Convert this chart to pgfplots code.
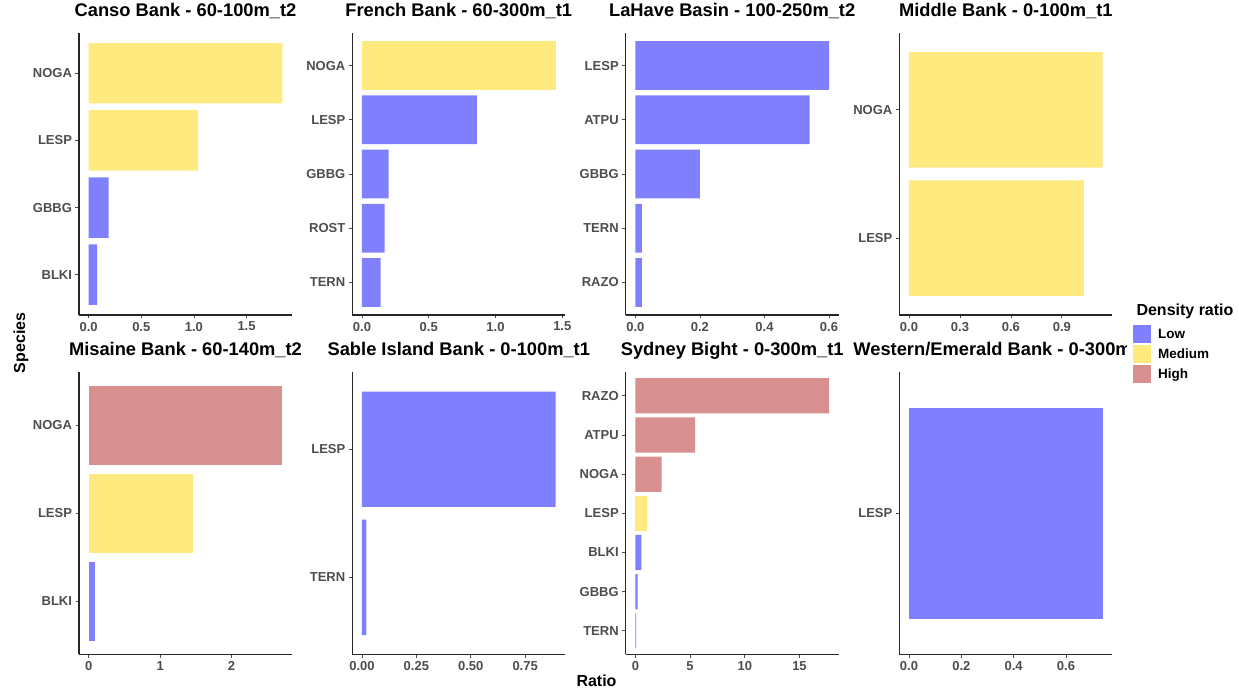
\documentclass[border=0pt]{standalone}
\usepackage{pgfplots}
\pgfplotsset{compat=1.18}
\usepackage{fontspec}
\setmainfont{Liberation Sans}
\definecolor{lowc}{RGB}{128,128,255}
\definecolor{medc}{RGB}{255,234,128}
\definecolor{highc}{RGB}{216,143,143}
\definecolor{tickgray}{RGB}{77,77,77}
\pgfplotsset{
  panel/.style={
    anchor=south west, scale only axis, width=213pt, height=282pt,
    axis x line=bottom, axis y line=left,
    axis line style={black!85, line width=1.1pt, -},
    xbar, bar width=0.9,
    tick align=outside, major tick length=3.5pt,
    tick style={tickgray, line width=0.8pt},
    every tick label/.append style={font=\fontsize{13}{15}\selectfont\bfseries, text=tickgray},
    title style={font=\fontsize{18.3}{20}\selectfont\bfseries, at={(0.5,1)}, anchor=base, yshift=10.5pt},
    ymin=0.4,
    clip=false,
  },
  lowbar/.style={fill=lowc, draw=none, bar shift=0pt},
  medbar/.style={fill=medc, draw=none, bar shift=0pt},
  highbar/.style={fill=highc, draw=none, bar shift=0pt},
}
\begin{document}
\begin{tikzpicture}
\useasboundingbox (0pt,0pt) rectangle (1239pt,692pt);

% ---- Canso Bank
\begin{axis}[panel, at={(79pt,377pt)}, title={Canso Bank - 60-100m\_t2},
  xmin=-0.092, xmax=1.932, ymax=4.6,
  xtick={0,0.5,1,1.5}, xticklabels={0.0,0.5,1.0,1.5},
  ytick={1,2,3,4}, yticklabels={BLKI,GBBG,LESP,NOGA}]
\addplot[medbar] coordinates {(1.84,4) (1.04,3)};
\addplot[lowbar] coordinates {(0.19,2) (0.08,1)};
\end{axis}

% ---- French Bank
\begin{axis}[panel, at={(352.3pt,377pt)}, title={French Bank - 60-300m\_t1},
  xmin=-0.0725, xmax=1.5225, ymax=5.6,
  xtick={0,0.5,1,1.5}, xticklabels={0.0,0.5,1.0,1.5},
  ytick={1,2,3,4,5}, yticklabels={TERN,ROST,GBBG,LESP,NOGA}]
\addplot[medbar] coordinates {(1.45,5)};
\addplot[lowbar] coordinates {(0.86,4) (0.20,3) (0.17,2) (0.14,1)};
\end{axis}

% ---- LaHave Basin
\begin{axis}[panel, at={(625.7pt,377pt)}, title={LaHave Basin - 100-250m\_t2},
  xmin=-0.03, xmax=0.63, ymax=5.6,
  xtick={0,0.2,0.4,0.6}, xticklabels={0.0,0.2,0.4,0.6},
  ytick={1,2,3,4,5}, yticklabels={RAZO,TERN,GBBG,ATPU,LESP}]
\addplot[lowbar] coordinates {(0.60,5) (0.54,4) (0.20,3) (0.02,2) (0.02,1)};
\end{axis}

% ---- Middle Bank
\begin{axis}[panel, at={(899.3pt,377pt)}, title={Middle Bank - 0-100m\_t1},
  xmin=-0.057, xmax=1.197, ymax=2.6,
  xtick={0,0.3,0.6,0.9}, xticklabels={0.0,0.3,0.6,0.9},
  ytick={1,2}, yticklabels={LESP,NOGA}]
\addplot[medbar] coordinates {(1.14,2) (1.03,1)};
\end{axis}

% ---- Misaine Bank
\begin{axis}[panel, at={(79pt,37.7pt)}, title={Misaine Bank - 60-140m\_t2},
  xmin=-0.1355, xmax=2.8455, ymax=3.6,
  xtick={0,1,2}, xticklabels={0,1,2},
  ytick={1,2,3}, yticklabels={BLKI,LESP,NOGA}]
\addplot[highbar] coordinates {(2.71,3)};
\addplot[medbar] coordinates {(1.46,2)};
\addplot[lowbar] coordinates {(0.09,1)};
\end{axis}

% ---- Sable Island Bank
\begin{axis}[panel, at={(352.3pt,37.7pt)}, title={Sable Island Bank - 0-100m\_t1},
  xmin=-0.0445, xmax=0.9345, ymax=2.6,
  xtick={0,0.25,0.5,0.75}, xticklabels={0.00,0.25,0.50,0.75},
  ytick={1,2}, yticklabels={TERN,LESP}]
\addplot[lowbar] coordinates {(0.89,2) (0.02,1)};
\end{axis}

% ---- Sydney Bight
\begin{axis}[panel, at={(625.7pt,37.7pt)}, title={Sydney Bight - 0-300m\_t1},
  xmin=-0.885, xmax=18.585, ymax=7.6,
  xtick={0,5,10,15}, xticklabels={0,5,10,15},
  ytick={1,2,3,4,5,6,7}, yticklabels={TERN,GBBG,BLKI,LESP,NOGA,ATPU,RAZO}]
\addplot[highbar] coordinates {(17.7,7) (5.45,6) (2.4,5)};
\addplot[medbar] coordinates {(1.1,4)};
\addplot[lowbar] coordinates {(0.55,3) (0.20,2) (0.07,1)};
\end{axis}

% ---- Western/Emerald Bank
\begin{axis}[panel, at={(899.3pt,37.7pt)}, title={Western/Emerald Bank - 0-300m\_t1},
  xmin=-0.037, xmax=0.777, ymax=1.6,
  xtick={0,0.2,0.4,0.6}, xticklabels={0.0,0.2,0.4,0.6},
  ytick={1}, yticklabels={LESP}]
\addplot[lowbar] coordinates {(0.74,1)};
\end{axis}

% ---- shared labels
\node[rotate=90, anchor=base, font=\fontsize{16}{18}\selectfont\bfseries] at (25pt,349pt) {Species};
\node[anchor=base, font=\fontsize{16}{18}\selectfont\bfseries] at (596.5pt,5.3pt) {Ratio};

% ---- legend
\begin{axis}[at={(0pt,0pt)}, anchor=south west, scale only axis,
  width=1239pt, height=692pt, hide axis,
  xmin=0, xmax=1, ymin=0, ymax=1,
  legend cell align=left,
  legend image code/.code={\fill[#1] (0pt,-4.3pt) rectangle (18pt,13.7pt);},
  legend style={at={(1127/1239,367/692)}, anchor=north west,
    fill=white, draw=none, inner xsep=6pt, inner ysep=0pt,
    row sep=2pt, column sep=7pt,
    nodes={inner xsep=0pt, inner ysep=0pt, anchor=base west},
    font=\fontsize{13.5}{15}\selectfont\bfseries}]
\addlegendimage{fill=lowc, draw=none}
\addlegendentry{Low}
\addlegendimage{fill=medc, draw=none}
\addlegendentry{Medium}
\addlegendimage{fill=highc, draw=none}
\addlegendentry{High}
\end{axis}
\node[anchor=base west, font=\fontsize{16}{18}\selectfont\bfseries] at (1133pt,376pt) {Density ratio};
\end{tikzpicture}
\end{document}
